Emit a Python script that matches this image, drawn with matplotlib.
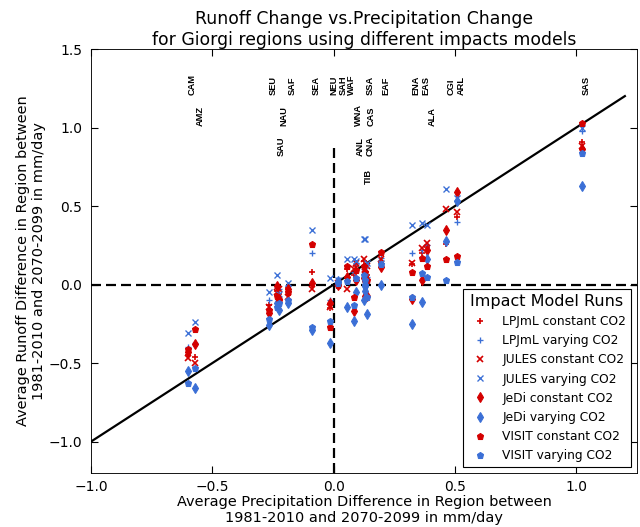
import matplotlib
matplotlib.use("Agg")
import matplotlib.pyplot as plt

regions = ["CAM", "AMZ", "SEU", "SAU", "NAU", "SAF", "SEA", "NEU", "SAH", "WAF",
           "WNA", "ANL", "TIB", "SSA", "CNA", "CAS", "EAF", "ENA", "EAS", "ALA",
           "CGI", "ARL", "SAS"]
precip = [-0.60, -0.57, -0.267, -0.235, -0.225, -0.189, -0.09, -0.016, 0.019, 0.056,
          0.082, 0.09, 0.123, 0.131, 0.131, 0.136, 0.197, 0.321, 0.362, 0.386,
          0.464, 0.509, 1.022]
label_level = [1.21, 1.01, 1.21, 0.82, 1.01, 1.21, 1.21, 1.21, 1.21, 1.21,
               1.01, 0.82, 0.64, 1.21, 0.82, 1.01, 1.21, 1.21, 1.21, 1.01,
               1.21, 1.21, 1.21]

lpjml_const = [-0.45, -0.46, -0.13, -0.04, -0.06, -0.02, 0.08, -0.15, 0.00, 0.10,
               0.06, 0.12, 0.15, 0.08, 0.04, 0.06, 0.14, 0.13, 0.20, 0.24,
               0.26, 0.43, 0.91]
lpjml_vary = [-0.40, -0.37, -0.10, -0.02, -0.03, -0.01, 0.20, -0.10, 0.01, 0.12,
              0.08, 0.14, 0.10, 0.11, 0.07, 0.05, 0.17, 0.20, 0.22, 0.25,
              0.27, 0.40, 0.98]
jules_const = [-0.47, -0.50, -0.14, -0.05, -0.03, -0.08, -0.03, -0.14, 0.01, -0.03,
               0.10, 0.14, 0.16, 0.10, 0.06, 0.12, 0.16, 0.14, 0.235, 0.265,
               0.48, 0.46, 0.88]
jules_vary = [-0.31, -0.24, -0.05, 0.06, -0.06, 0.01, 0.35, 0.04, 0.03, 0.16,
              0.16, 0.15, 0.29, 0.29, 0.10, 0.14, 0.14, 0.38, 0.39, 0.38,
              0.61, 0.55, 1.00]
jedi_const = [-0.43, -0.38, -0.18, -0.01, -0.09, -0.03, 0.01, -0.12, 0.00, 0.05,
              -0.17, 0.03, 0.04, -0.07, 0.02, -0.07, 0.11, -0.09, 0.03, 0.22,
              0.35, 0.59, 0.865]
jedi_vary = [-0.55, -0.66, -0.26, -0.12, -0.16, -0.12, -0.29, -0.37, 0.02, -0.14,
             -0.23, -0.05, -0.10, -0.01, -0.04, -0.19, 0.00, -0.25, -0.11, 0.16,
             0.275, 0.53, 0.63]
visit_const = [-0.41, -0.28, -0.16, -0.07, -0.10, -0.05, 0.26, -0.27, 0.00, 0.12,
               -0.08, 0.09, 0.12, 0.08, 0.05, 0.03, 0.21, 0.08, 0.17, 0.12,
               0.16, 0.185, 1.03]
visit_vary = [-0.63, -0.53, -0.22, -0.14, -0.12, -0.10, -0.27, -0.23, 0.01, 0.02,
              -0.13, 0.04, 0.06, 0.00, 0.03, -0.08, 0.13, -0.08, 0.075, 0.05,
              0.03, 0.145, 0.835]

series_labels = ["LPJmL constant CO2", "LPJmL varying CO2", "JULES constant CO2",
                 "JULES varying CO2", "JeDi constant CO2", "JeDi varying CO2",
                 "VISIT constant CO2", "VISIT varying CO2"]
series_values = [lpjml_const, lpjml_vary, jules_const, jules_vary,
                 jedi_const, jedi_vary, visit_const, visit_vary]

RED = "#d40000"
BLUE = "#3b6fd6"
styles = [("+", RED, 6, 1.5), ("+", BLUE, 6, 1.2), ("x", RED, 5, 1.5), ("x", BLUE, 5, 1.2),
          ("d", RED, 6, 1.0), ("d", BLUE, 6, 1.0), ("p", RED, 6, 1.0), ("p", BLUE, 6, 1.0)]

fig = plt.figure(figsize=(8, 527 / 80), dpi=80)
ax = fig.add_axes([91 / 640, 1 - 473 / 527, 546 / 640, 424 / 527])

# 1:1 line and zero lines
ax.plot([-1.0, 1.2], [-1.0, 1.2], color="black", lw=2, zorder=3)
ax.axhline(0.0, color="black", lw=2, dashes=(4.5, 2.25), zorder=1)
ax.plot([0.0, 0.0], [-1.2, 0.9], color="black", lw=2, dashes=(4.5, 2.25), zorder=1)

for lab, vals, (m, c, ms, mew) in zip(series_labels, series_values, styles):
    ax.plot(precip, vals, linestyle="none", marker=m, color=c, mec=c, mfc=c,
            markersize=ms, mew=mew, label=lab, zorder=4)

for name, x, lev in zip(regions, precip, label_level):
    ax.text(x, lev, name, rotation=90, ha="left", va="bottom",
            fontsize=8.3, fontweight="bold", family="Liberation Sans")

ax.set_xlim(-1.0, 1.25)
ax.set_ylim(-1.2, 1.5)
ax.set_xticks([-1.0, -0.5, 0.0, 0.5, 1.0])
ax.set_yticks([-1.0, -0.5, 0.0, 0.5, 1.0, 1.5])
ax.tick_params(direction="in", top=True, right=True, labelsize=12.5, length=6, width=1)
ax.tick_params(axis="y", pad=8)
ax.tick_params(axis="x", pad=6)
ax.set_title("Runoff Change vs.Precipitation Change\nfor Giorgi regions using different impacts models",
             fontsize=15.5, pad=4)
ax.set_xlabel("Average Precipitation Difference in Region between\n1981-2010 and 2070-2099 in mm/day",
              fontsize=13, labelpad=1)
ax.set_ylabel("Average Runoff Difference in Region between\n1981-2010 and 2070-2099 in mm/day",
              fontsize=13, labelpad=2)

leg = ax.legend(loc="lower right", title="Impact Model Runs", fontsize=11,
                title_fontsize=14.4, numpoints=1, fancybox=False, framealpha=1,
                edgecolor="black", borderaxespad=0.5)
leg.get_frame().set_linewidth(1.0)

fig.savefig("out.png", dpi=80)
